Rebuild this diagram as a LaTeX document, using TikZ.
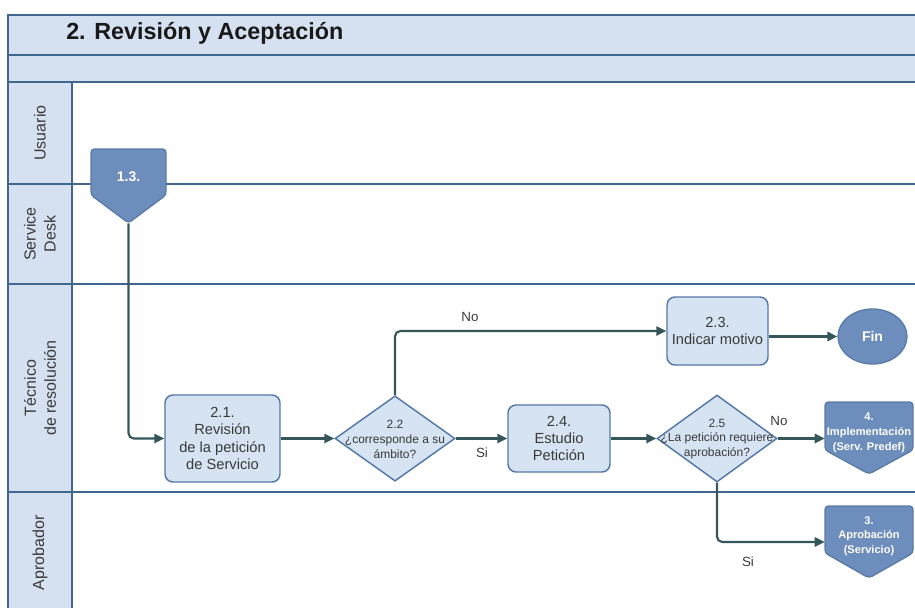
\documentclass[tikz,border=0pt]{standalone}
\usepackage{fontspec}
\setmainfont{Liberation Sans}
\usetikzlibrary{arrows.meta,shapes.geometric}
\definecolor{laneblue}{HTML}{D5E1F0}
\definecolor{laneline}{HTML}{41678F}
\definecolor{boxfill}{HTML}{D6E3F2}
\definecolor{boxline}{HTML}{5479A8}
\definecolor{darkfill}{HTML}{6D8DBD}
\definecolor{darkline}{HTML}{5A7BA8}
\definecolor{flow}{HTML}{36575A}
\definecolor{txt}{HTML}{3A3A3A}
\begin{document}
\begin{tikzpicture}[x=0.75pt,y=-0.75pt,
  lane/.style={draw=laneline,line width=1.4pt},
  task/.style={rectangle,rounded corners=6pt,draw=boxline,fill=boxfill,line width=1.1pt,
    align=center,font=\fontsize{11}{13}\selectfont,text=txt,inner sep=0pt},
  decision/.style={diamond,draw=boxline,fill=boxfill,line width=1.1pt,inner sep=0pt},
  dectext/.style={align=center,font=\fontsize{9}{11}\selectfont,text=txt,inner sep=0pt},
  darkshape/.style={draw=darkline,fill=darkfill,line width=1pt,rounded corners=2.5pt},
  darktext/.style={align=center,text=white,font=\bfseries\fontsize{8.3}{11}\selectfont,inner sep=0pt},
  hitbox/.style={inner sep=0pt},
  endnode/.style={ellipse,draw=darkline,fill=darkfill,line width=1pt,inner sep=0pt,
    text=white,font=\bfseries\fontsize{10.5}{12}\selectfont},
  flowline/.style={draw=flow,line width=1.6pt,rounded corners=4pt,-{Triangle[length=7.5pt,width=7pt]}},
  flowlabel/.style={text=txt,font=\fontsize{10}{12}\selectfont},
  lanelabel/.style={rotate=90,align=center,text=txt,font=\fontsize{12}{15}\selectfont}
]
\useasboundingbox (0,0) rectangle (915,608);

% pool header and lane label column
\fill[laneblue] (8,15) rectangle (915,82);
\fill[laneblue] (8,82) rectangle (72,608);
\draw[lane] (915,15) -- (8,15) -- (8,608);
\draw[lane] (8,55) -- (915,55);
\draw[lane] (8,82) -- (915,82);
\draw[lane] (72,82) -- (72,608);
\draw[lane] (8,184) -- (915,184);
\draw[lane] (8,284) -- (915,284);
\draw[lane] (8,492) -- (915,492);

\node[anchor=west,inner sep=0pt,text=black!90,font=\bfseries\fontsize{17.5}{20}\selectfont]
  (title) at (66,33) {2. Revisión y Aceptación};

% lane names
\node[lanelabel] (lu) at (40,133) {Usuario};
\node[lanelabel] (ls) at (40,234) {Service\\Desk};
\node[lanelabel] (lt) at (40,388) {Técnico\\de resolución};
\node[lanelabel] (la) at (40,553) {Aprobador};

% off-page connector 1.3.
\draw[darkshape] (91,149) -- (166,149) -- (166,195) -- (128.5,223) -- (91,195) -- cycle;
\node[hitbox,minimum width=56.25pt,minimum height=55.5pt] (n13) at (128.5,186) {};
\node[darktext,font=\bfseries\fontsize{10.5}{12}\selectfont] (t13) at (128.5,177) {1.3.};

% tasks and decisions, all on one flow row
\node[task,minimum width=86.25pt,minimum height=65.25pt] (n21) at (222.5,438.5)
  {2.1.\\Revisión\\de la petición\\de Servicio};
\node[decision,minimum width=90pt,minimum height=64pt] (n22) at (395,438.5) {};
\node[dectext] (t22) at (395,439.5) {2.2\\¿corresponde a su\\ámbito?};
\node[task,minimum width=76.5pt,minimum height=50.25pt] (n24) at (559,438.5)
  {2.4.\\Estudio\\Petición};
\node[decision,minimum width=90pt,minimum height=65.25pt] (n25) at (717,438.5) {};
\node[dectext] (t25) at (717,439) {2.5\\¿La petición requiere\\aprobación?};
\node[task,minimum width=75.75pt,minimum height=51pt] (n23) at (717.5,331)
  {2.3.\\Indicar motivo};
\node[endnode,minimum width=51.75pt,minimum height=41.25pt] (fin) at (872.5,336.5) {Fin};

% off-page connector 4.
\draw[darkshape] (825,402) -- (913,402) -- (913,450) -- (869,474) -- (825,450) -- cycle;
\node[hitbox,minimum width=66pt,minimum height=54pt] (n4) at (869,438.5) {};
\node[darktext] (t4) at (869,433) {4.\\Implementación\\(Serv. Predef)};

% off-page connector 3.
\draw[darkshape] (825,506) -- (913,506) -- (913,553) -- (869,578) -- (825,553) -- cycle;
\node[hitbox,minimum width=66pt,minimum height=54pt] (n3) at (869,542) {};
\node[darktext] (t3) at (869,536) {3.\\Aprobación\\(Servicio)};

% connectors
\draw[flowline] (n13.south) |- (n21.west);
\draw[flowline] (n21.east) -- (n22.west);
\draw[flowline] (n22.north) |- (n23.west);
\draw[flowline] (n22.east) -- (n24.west);
\draw[flowline] (n24.east) -- (n25.west);
\draw[flowline] (n23.east |- fin.west) -- (fin.west);
\draw[flowline] (n25.east) -- (n4.west);
\draw[flowline] (n25.south) |- (n3.west);

% branch labels
\node[flowlabel] (lno1) at (470,317) {No};
\node[flowlabel] (lsi1) at (482,453) {Si};
\node[flowlabel] (lno2) at (779,421) {No};
\node[flowlabel] (lsi2) at (748,562) {Si};
\end{tikzpicture}
\end{document}
